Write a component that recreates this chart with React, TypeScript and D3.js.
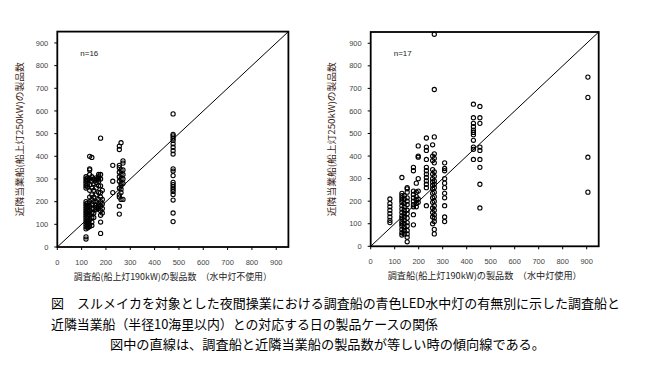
import React from "react";
import * as d3 from "d3";

// ---- data ----
const TICKS = [0, 100, 200, 300, 400, 500, 600, 700, 800, 900];

// left chart: [x, y] columns (水中灯不使用)
const LEFT_COLUMNS: [number, number[]][] = [
  [118, [35, 45, 80, 90, 100, 110, 120, 130, 140, 150, 160, 170, 180, 190, 200, 260, 270, 280, 290, 300, 310]],
  [125, [85, 95, 105, 115, 125, 135, 145, 155, 165, 175, 185, 195, 265, 280, 295, 305]],
  [133, [90, 100, 120, 140, 160, 180, 200, 220, 250, 275, 300, 320, 340, 345, 400]],
  [142, [95, 110, 130, 150, 170, 190, 210, 230, 260, 290, 310, 395]],
  [150, [130, 150, 170, 200, 220, 250, 280, 300]],
  [160, [165, 175, 185, 200, 230, 260, 285, 295, 305]],
  [170, [170, 180, 190, 210, 240, 270, 290, 300, 310, 320]],
  [178, [60, 110, 140, 160, 180, 200, 220, 240, 270, 300, 320, 480]],
  [185, [150, 170, 190, 210, 250]],
  [228, [240, 290, 360]],
  [255, [145, 180, 220, 230, 260, 290, 310, 330, 350, 360, 430, 445]],
  [262, [210, 240, 255, 270, 280, 300, 320, 340, 460]],
  [270, [210, 280, 300, 320, 340, 370, 380]],
  [476, [112, 150, 207, 232, 245, 255, 265, 275, 285, 315, 335, 345, 410, 425, 440, 455, 470, 480, 490, 497, 587]],
];

// right chart (水中灯使用)
const RIGHT_COLUMNS: [number, number[]][] = [
  [80, [105, 115, 130, 145, 160, 175, 190, 210]],
  [130, [50, 60, 75, 90, 100, 110, 125, 135, 150, 165, 180, 195, 205, 215, 225, 235, 305]],
  [140, [55, 70, 85, 100, 115, 130, 145, 160, 175, 190, 210, 225]],
  [152, [20, 40, 55, 70, 90, 105, 125, 145, 160, 185, 200, 215, 240, 255, 260]],
  [178, [95, 140, 175, 185, 200, 215, 230, 245, 335, 350]],
  [190, [175, 190, 205, 220, 240, 280]],
  [198, [195, 210, 245, 300, 395, 400, 445]],
  [232, [180, 260, 275, 290, 305, 320, 335, 350, 385, 425, 440, 480]],
  [258, [100, 130, 150, 170, 195, 215, 235, 255, 270, 285, 300, 320, 340, 380, 400, 450]],
  [265, [55, 75, 110, 125, 140, 160, 180, 200, 220, 240, 260, 275, 290, 310, 330, 370, 390, 410, 485, 695, 940]],
  [308, [110, 130, 180, 215, 235, 260, 280, 300, 335, 345, 370]],
  [428, [385, 430, 440, 470, 495, 505, 515, 530, 545, 570, 630]],
  [455, [170, 275, 350, 385, 425, 440, 545, 570, 620]],
  [905, [240, 395, 660, 750]],
];

const Y_LABEL = "近隣当業船(船上灯250kW)の製品数";
const X_LABEL_LEFT = "調査船(船上灯190kW)の製品数　（水中灯不使用）";
const X_LABEL_RIGHT = "調査船(船上灯190kW)の製品数　（水中灯使用）";
const N_LEFT = "n=16";
const N_RIGHT = "n=17";
const CAPTION = [
  "図　スルメイカを対象とした夜間操業における調査船の青色LED水中灯の有無別に示した調査船と",
  "近隣当業船（半径10海里以内）との対応する日の製品ケースの関係",
  "図中の直線は、調査船と近隣当業船の製品数が等しい時の傾向線である。",
];

const JP = "'Noto Sans CJK JP', sans-serif";
const NUM = "'Liberation Sans', Arial, sans-serif";

type PanelProps = {
  x0: number; x1: number; yb: number; yt: number;
  columns: [number, number[]][];
  n: string; xLabel: string; xLabelLen: number;
  yLabelX: number;
};

function Panel({ x0, x1, yb, yt, columns, n, xLabel, xLabelLen, yLabelX }: PanelProps) {
  const xs = d3.scaleLinear().domain([0, 950]).range([x0, x1]);
  const ys = d3.scaleLinear().domain([0, 950]).range([yb, yt]);
  const pts = columns.flatMap(([x, arr]) => arr.map((y) => [x, y] as [number, number]));
  const line = d3.line<number>().x((v) => xs(v)).y((v) => ys(v));
  const cx = (x0 + x1) / 2;
  const cy = (yb + yt) / 2;
  return (
    <g>
      <rect x={x0} y={yt} width={x1 - x0} height={yb - yt} fill="none" stroke="#000" strokeWidth={1.8} />
      <path d={line([0, 950]) || ""} stroke="#000" strokeWidth={1} fill="none" />
      {TICKS.map((t) => (
        <g key={"y" + t}>
          <line x1={x0 - 3} x2={x0} y1={ys(t)} y2={ys(t)} stroke="#000" strokeWidth={1} />
          <text x={x0 - 9} y={ys(t) + 2.6} textAnchor="end" fontSize={7.5} fontFamily={NUM} fill="#444">{t}</text>
          <line x1={xs(t)} x2={xs(t)} y1={yb} y2={yb + 3} stroke="#000" strokeWidth={1} />
          <text x={xs(t)} y={yb + 17.5} textAnchor="middle" fontSize={7.5} fontFamily={NUM} fill="#444">{t}</text>
        </g>
      ))}
      {pts.map(([x, y], i) => (
        <circle key={i} cx={xs(x)} cy={ys(y)} r={2.1} fill="none" stroke="#000" strokeWidth={1.1} />
      ))}
      <text x={x0 + 23} y={yt + 24} fontSize={8} fontFamily={NUM} fill="#222">{n}</text>
      <text x={cx} y={yb + 33} textAnchor="middle" fontSize={9} fontFamily={JP} fill="#222"
        textLength={xLabelLen} lengthAdjust="spacingAndGlyphs">{xLabel}</text>
      <text transform={`translate(${yLabelX},${cy}) rotate(-90)`} textAnchor="middle" dy={3}
        fontSize={9} fontFamily={JP} fill="#3a1a10" textLength={154} lengthAdjust="spacingAndGlyphs">{Y_LABEL}</text>
    </g>
  );
}

export default function App() {
  return (
    <svg width={659} height={376} style={{ position: "absolute", left: 0, top: 0, background: "#fff" }}>
      <rect width={659} height={376} fill="#fff" />
      <Panel x0={57.3} x1={288.4} yb={247} yt={31.6} columns={LEFT_COLUMNS} n={N_LEFT}
        xLabel={X_LABEL_LEFT} xLabelLen={198} yLabelX={20} />
      <Panel x0={370.7} x1={598.7} yb={246.3} yt={32} columns={RIGHT_COLUMNS} n={N_RIGHT}
        xLabel={X_LABEL_RIGHT} xLabelLen={194} yLabelX={332} />
      <text x={51} y={308} fontSize={13} fontFamily={JP} fill="#000" textLength={569} lengthAdjust="spacingAndGlyphs">{CAPTION[0]}</text>
      <text x={51} y={328.5} fontSize={13} fontFamily={JP} fill="#000" textLength={387} lengthAdjust="spacingAndGlyphs">{CAPTION[1]}</text>
      <text x={110} y={349} fontSize={13} fontFamily={JP} fill="#000" textLength={435} lengthAdjust="spacingAndGlyphs">{CAPTION[2]}</text>
    </svg>
  );
}
